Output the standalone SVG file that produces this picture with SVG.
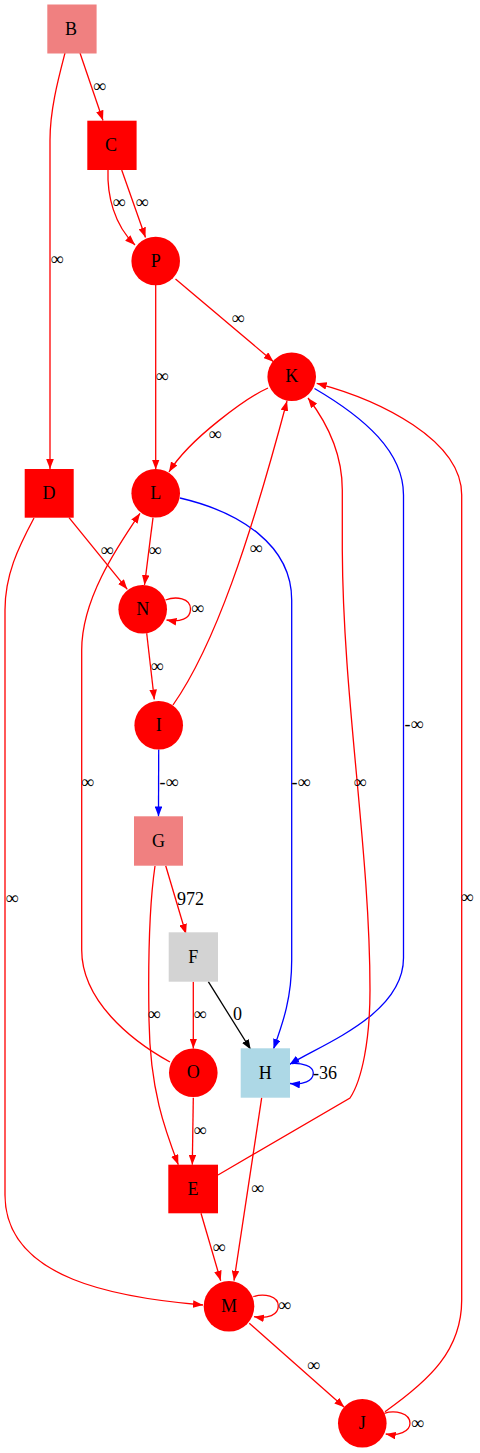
<svg xmlns="http://www.w3.org/2000/svg" width="480" height="1453" viewBox="0 0 480 1453">
<style>
text{font-family:"Liberation Serif","Times New Roman",serif;font-size:18px;fill:#000}
.n text{text-anchor:middle}
.e path{fill:none;stroke-width:1.3}
.r{stroke:#ff0000}
.b{stroke:#0000ff}
.k{stroke:#000000}
.lbl{text-anchor:middle}
.lbs{text-anchor:start}
</style>
<defs>
<marker id="ar" viewBox="0 0 10 7.6" refX="10" refY="3.8" markerWidth="10" markerHeight="7.6" markerUnits="userSpaceOnUse" orient="auto"><path d="M0,0 L10,3.8 L0,7.6 z" fill="#ff0000"/></marker>
<marker id="ab" viewBox="0 0 10 7.6" refX="10" refY="3.8" markerWidth="10" markerHeight="7.6" markerUnits="userSpaceOnUse" orient="auto"><path d="M0,0 L10,3.8 L0,7.6 z" fill="#0000ff"/></marker>
<marker id="ak" viewBox="0 0 10 7.6" refX="10" refY="3.8" markerWidth="10" markerHeight="7.6" markerUnits="userSpaceOnUse" orient="auto"><path d="M0,0 L10,3.8 L0,7.6 z" fill="#000000"/></marker>
</defs>
<g id="edges" class="e">
<path class="r" marker-end="url(#ar)" d="M80,53 L103,120.5"/>
<text class="lbl" x="99.5" y="92">∞</text>
<path class="r" marker-end="url(#ar)" d="M65,53 C58,80 50,110 50,140 L50,469"/>
<text class="lbl" x="57" y="265">∞</text>
<path class="r" marker-end="url(#ar)" d="M108,170 C107,195 114,225 135,245"/>
<text class="lbl" x="119" y="208">∞</text>
<path class="r" marker-end="url(#ar)" d="M121.7,170 L145.5,237.5"/>
<text class="lbl" x="142" y="208">∞</text>
<path class="r" marker-end="url(#ar)" d="M175.5,279 L273.5,361.7"/>
<text class="lbl" x="238" y="324">∞</text>
<path class="r" marker-end="url(#ar)" d="M155.7,285 L155.7,469.5"/>
<text class="lbl" x="162" y="382">∞</text>
<path class="r" marker-end="url(#ar)" d="M268,388 C248,397 190,438 169,472"/>
<text class="lbl" x="215" y="440">∞</text>
<path class="b" marker-end="url(#ab)" d="M314.5,388.5 C365,418 403.5,452 403.5,495 L403.5,958 C403.5,1015 320,1045 289.5,1064.5"/>
<text class="lbs" x="404.5" y="730">-∞</text>
<path class="b" marker-end="url(#ab)" d="M180,498 C240,512 291.7,545 291.7,600 L291.7,960 C291.7,1000 282,1025 273.5,1049"/>
<text class="lbs" x="291.5" y="788">-∞</text>
<path class="r" marker-end="url(#ar)" d="M153,517.7 L144.5,585"/>
<text class="lbl" x="155" y="556">∞</text>
<path class="r" marker-end="url(#ar)" d="M69,517.7 L127.3,589.3"/>
<text class="lbl" x="107" y="556">∞</text>
<path class="r" marker-end="url(#ar)" d="M165.5,600 C176,596 190.5,598 190.5,609 C190.5,619 180,622.5 166.5,620"/>
<text class="lbl" x="197.5" y="614">∞</text>
<path class="r" marker-end="url(#ar)" d="M146.7,633.3 L154.3,699.5"/>
<text class="lbl" x="157" y="672">∞</text>
<path class="r" marker-end="url(#ar)" d="M173,705 C215,645 250,540 287,401"/>
<text class="lbl" x="256" y="554">∞</text>
<path class="b" marker-end="url(#ab)" d="M158.7,749.5 L158.5,816.5"/>
<text class="lbs" x="159.5" y="788">-∞</text>
<path class="r" marker-end="url(#ar)" d="M165.7,865.7 L186,934"/>
<text class="lbl" x="190.5" y="904.5">972</text>
<path class="r" marker-end="url(#ar)" d="M155,866 C150,900 148,960 149,1020 C150,1090 165,1130 178.3,1164.7"/>
<text class="lbl" x="154" y="1020">∞</text>
<path class="r" marker-end="url(#ar)" d="M193.3,981.7 L193.3,1048.5"/>
<text class="lbl" x="200" y="1020">∞</text>
<path class="k" marker-end="url(#ak)" d="M208.3,981.7 L250.7,1049.5"/>
<text class="lbl" x="237.5" y="1020">0</text>
<path class="b" marker-end="url(#ab)" d="M292,1063.5 C302,1063 313.3,1066 313.3,1073 C313.3,1081 303,1085 290,1083.5"/>
<text class="lbs" x="313" y="1078.5">-36</text>
<path class="r" marker-end="url(#ar)" d="M170,1062 C130,1040 81.7,1000 81.7,950 L81.7,650 C81.7,600 115,550 140,513.3"/>
<text class="lbl" x="87.5" y="788">∞</text>
<path class="r" marker-end="url(#ar)" d="M193.3,1097.7 L192.3,1164.7"/>
<text class="lbl" x="200" y="1136">∞</text>
<path class="r" marker-end="url(#ar)" d="M218,1175 L350,1098 C362,1080 370,1040 370,990 C370,850 343,700 342.3,550 L342.3,490 C342.3,450 325,420 308,398"/>
<text class="lbl" x="360" y="788">∞</text>
<path class="r" marker-end="url(#ar)" d="M261.7,1097.7 L234,1280.7"/>
<text class="lbl" x="257.5" y="1194">∞</text>
<path class="r" marker-end="url(#ar)" d="M201,1213.3 L220.7,1280.7"/>
<text class="lbl" x="219" y="1253">∞</text>
<path class="r" marker-end="url(#ar)" d="M34,518 C18,548 5,575 5,610 L5,1195 C5,1280 120,1298 203,1305"/>
<text class="lbl" x="12" y="904">∞</text>
<path class="r" marker-end="url(#ar)" d="M253.3,1296.7 C264,1293 278.3,1296 278.3,1306 C278.3,1315 268,1319 254,1316.7"/>
<text class="lbl" x="284.5" y="1311">∞</text>
<path class="r" marker-end="url(#ar)" d="M249.3,1323.3 L344.3,1407.3"/>
<text class="lbl" x="313.5" y="1371">∞</text>
<path class="r" marker-end="url(#ar)" d="M385,1411.7 C430,1380 461.7,1350 461.7,1300 L461.7,495 C461.7,440 380,400 316.7,383.3"/>
<text class="lbl" x="467" y="903">∞</text>
<path class="r" marker-end="url(#ar)" d="M384.3,1413.3 C395,1410 410,1413 410,1423.3 C410,1432 398,1436 385.7,1434"/>
<text class="lbl" x="417.5" y="1429">∞</text>
</g>
<g id="node-B" class="n"><rect x="47.3" y="4.5" width="49.3" height="49" fill="#f08080"/><text x="71" y="35">B</text></g>
<g id="node-C" class="n"><rect x="87.3" y="120.7" width="49.3" height="49.3" fill="#ff0000"/><text x="111" y="151">C</text></g>
<g id="node-P" class="n"><circle cx="155.7" cy="261" r="24.3" fill="#ff0000"/><text x="155.7" y="266.5">P</text></g>
<g id="node-K" class="n"><circle cx="291.7" cy="376.7" r="24.3" fill="#ff0000"/><text x="291.7" y="382.2">K</text></g>
<g id="node-L" class="n"><circle cx="155.7" cy="493.3" r="24.3" fill="#ff0000"/><text x="155.7" y="498.8">L</text></g>
<g id="node-D" class="n"><rect x="24.7" y="469" width="49" height="48.7" fill="#ff0000"/><text x="49" y="499">D</text></g>
<g id="node-N" class="n"><circle cx="142.7" cy="609.3" r="24.3" fill="#ff0000"/><text x="142.7" y="614.8">N</text></g>
<g id="node-I" class="n"><circle cx="158.7" cy="725.3" r="24.3" fill="#ff0000"/><text x="158.7" y="730.8">I</text></g>
<g id="node-G" class="n"><rect x="134" y="816.3" width="49" height="49.4" fill="#f08080"/><text x="158.5" y="846.5">G</text></g>
<g id="node-F" class="n"><rect x="168.7" y="932.3" width="49.3" height="49.4" fill="#d3d3d3"/><text x="193.3" y="962.5">F</text></g>
<g id="node-O" class="n"><circle cx="193.3" cy="1072.7" r="24.3" fill="#ff0000"/><text x="193.3" y="1078.2">O</text></g>
<g id="node-H" class="n"><rect x="240.7" y="1048.3" width="49.3" height="49.4" fill="#add8e6"/><text x="265.3" y="1078.5">H</text></g>
<g id="node-E" class="n"><rect x="168.3" y="1164.7" width="49.7" height="48.6" fill="#ff0000"/><text x="193" y="1194.5">E</text></g>
<g id="node-M" class="n"><circle cx="229" cy="1306.3" r="25.3" fill="#ff0000"/><text x="229" y="1311.8">M</text></g>
<g id="node-J" class="n"><circle cx="362.3" cy="1423.3" r="24.3" fill="#ff0000"/><text x="362.3" y="1428.8">J</text></g>
</svg>
